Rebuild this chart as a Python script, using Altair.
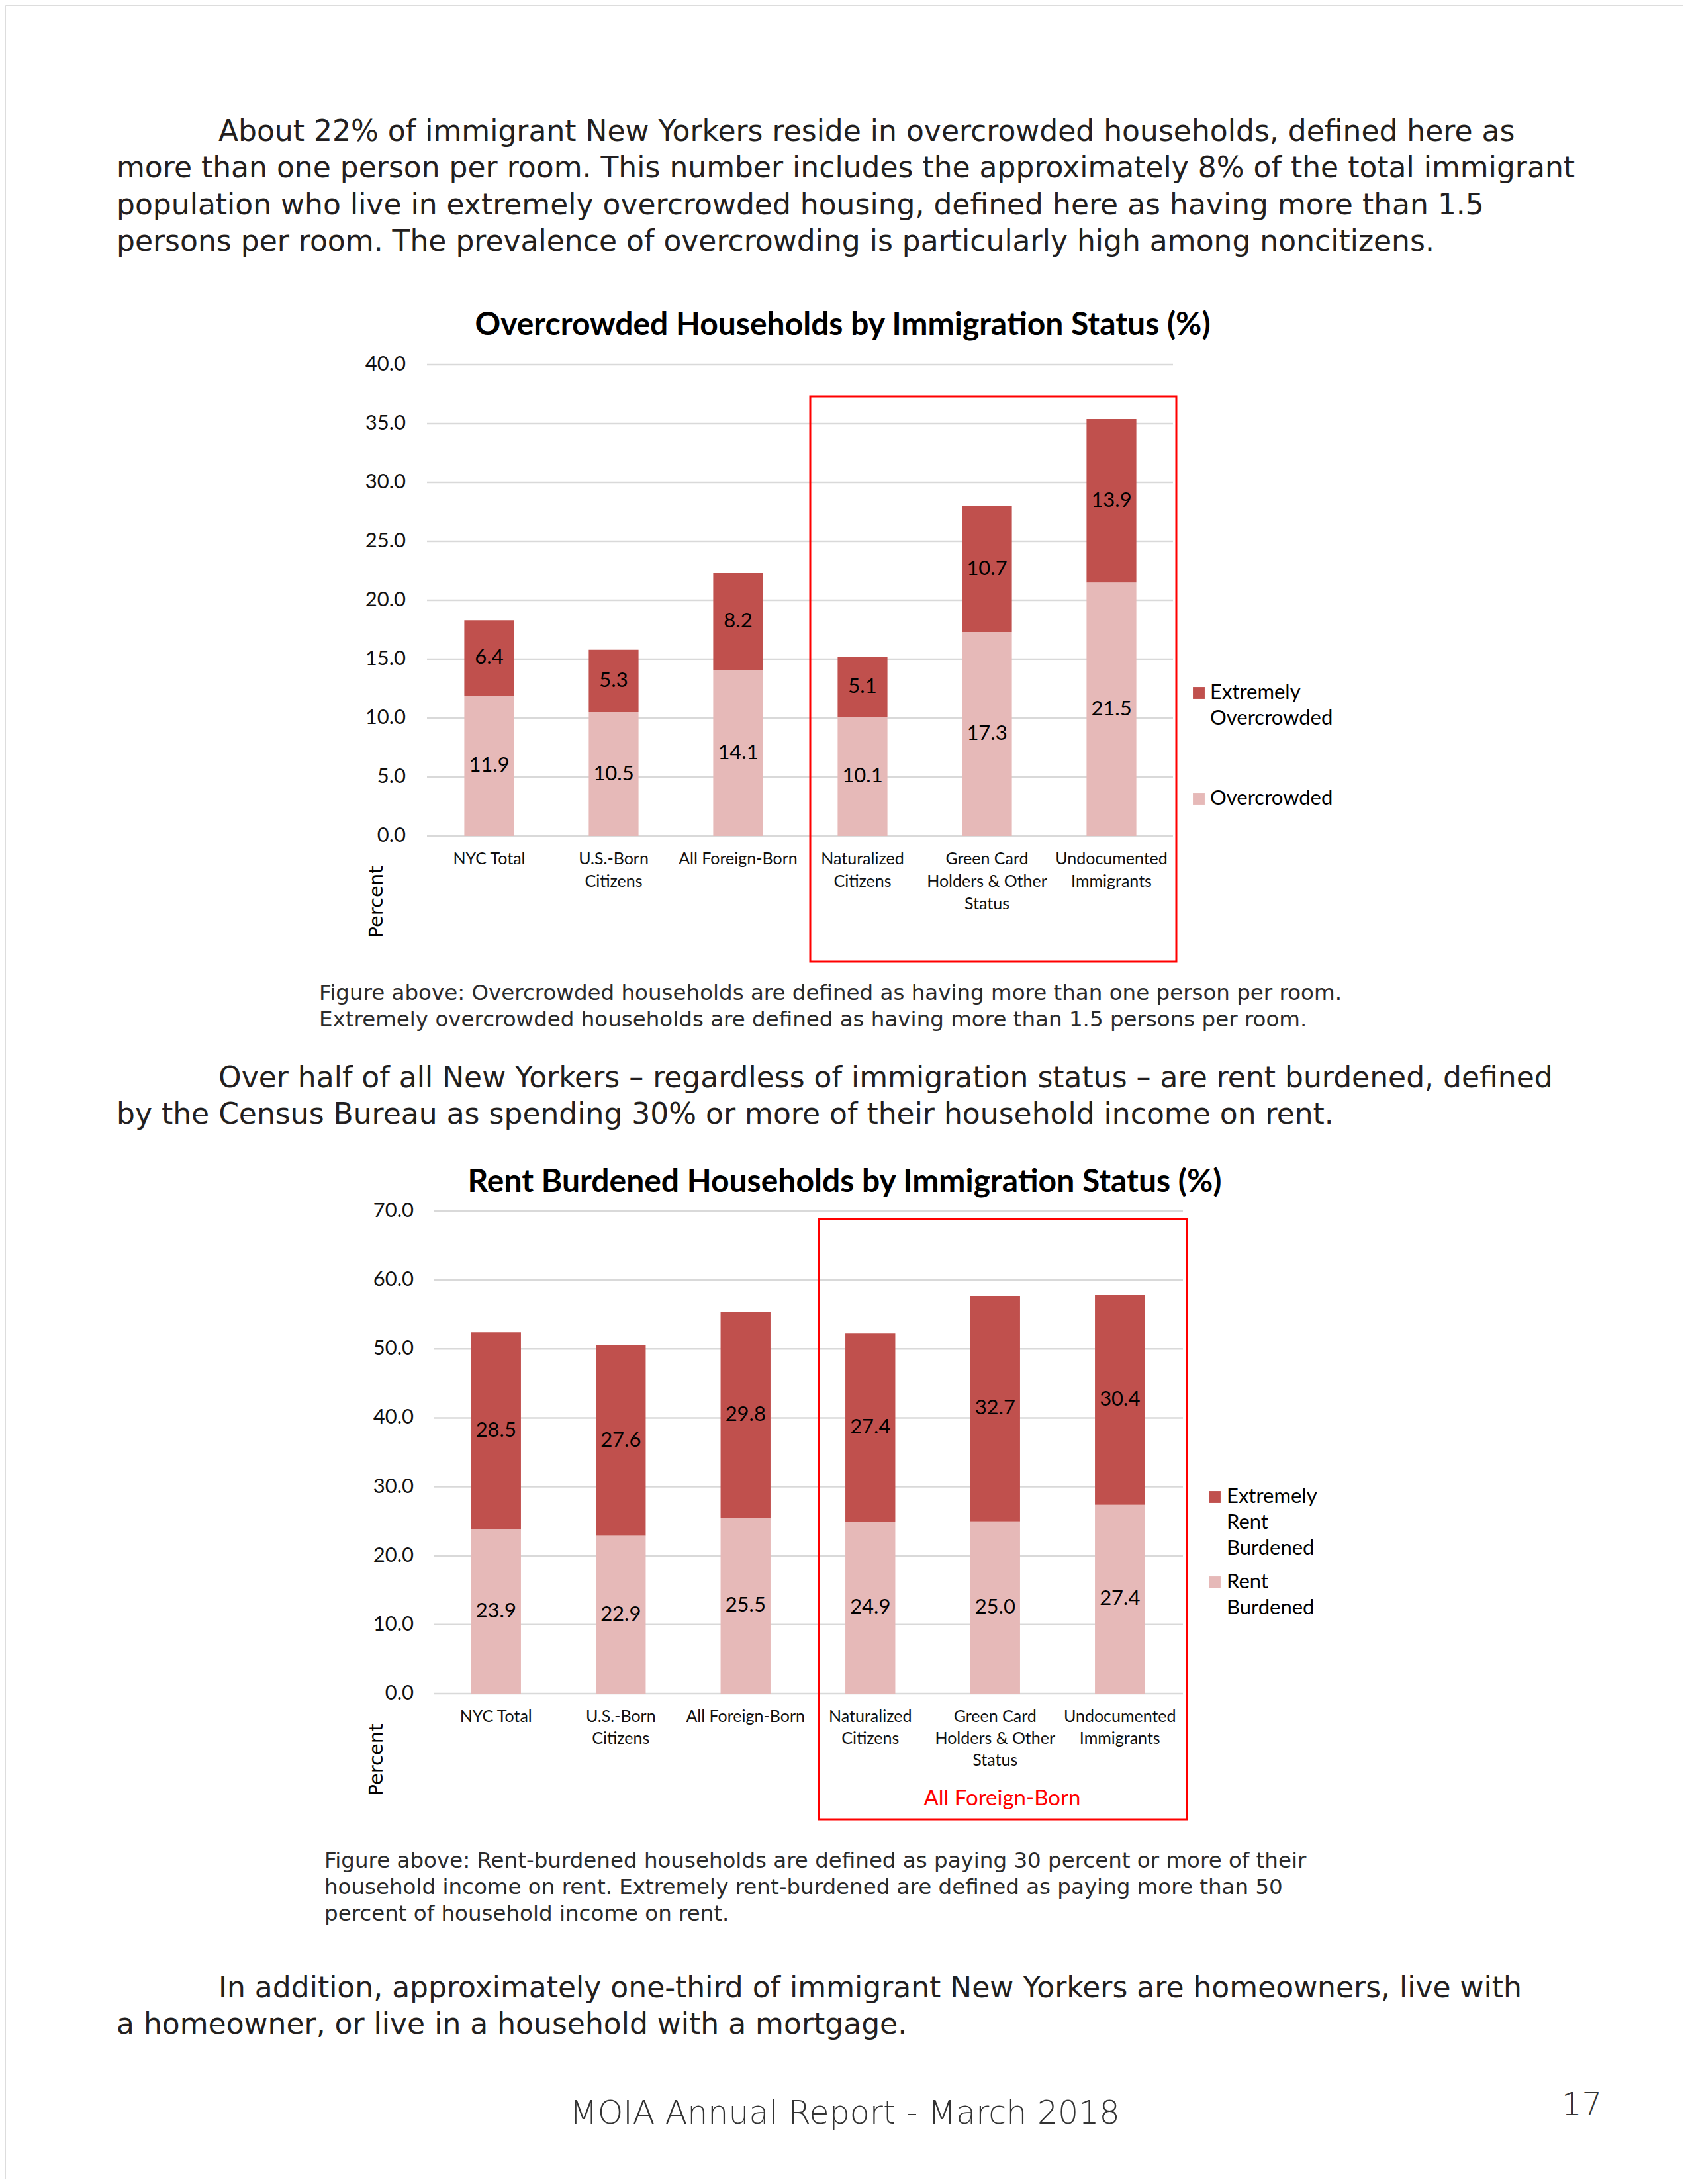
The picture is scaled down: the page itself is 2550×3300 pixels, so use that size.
import altair as alt
import pandas as pd

# ---------------- data ----------------
categories = ["NYC Total", "U.S.-Born\nCitizens", "All Foreign-Born", "Naturalized\nCitizens",
              "Green Card\nHolders & Other\nStatus", "Undocumented\nImmigrants"]

overcrowded = [11.9, 10.5, 14.1, 10.1, 17.3, 21.5]
extremely_overcrowded = [6.4, 5.3, 8.2, 5.1, 10.7, 13.9]

rent_burdened = [23.9, 22.9, 25.5, 24.9, 25.0, 27.4]
extremely_rent_burdened = [28.5, 27.6, 29.8, 27.4, 32.7, 30.4]

ticks1 = [0, 5, 10, 15, 20, 25, 30, 35, 40]
ticks2 = [0, 10, 20, 30, 40, 50, 60, 70]

series1 = ["Overcrowded", "Extremely Overcrowded"]
series2 = ["Rent Burdened", "Extremely Rent Burdened"]
legend1_labels = ["Extremely\nOvercrowded", "Overcrowded"]
legend2_labels = ["Extremely\nRent\nBurdened", "Rent\nBurdened"]

para1 = [
    "About 22% of immigrant New Yorkers reside in overcrowded households, defined here as",
    "more than one person per room. This number includes the approximately 8% of the total immigrant",
    "population who live in extremely overcrowded housing, defined here as having more than 1.5",
    "persons per room. The prevalence of overcrowding is particularly high among noncitizens.",
]
caption1 = [
    "Figure above: Overcrowded households are defined as having more than one person per room.",
    "Extremely overcrowded households are defined as having more than 1.5 persons per room.",
]
para2 = [
    "Over half of all New Yorkers \u2013 regardless of immigration status \u2013 are rent burdened, defined",
    "by the Census Bureau as spending 30% or more of their household income on rent.",
]
caption2 = [
    "Figure above: Rent-burdened households are defined as paying 30 percent or more of their",
    "household income on rent. Extremely rent-burdened are defined as paying more than 50",
    "percent of household income on rent.",
]
para3 = [
    "In addition, approximately one-third of immigrant New Yorkers are homeowners, live with",
    "a homeowner, or live in a household with a mortgage.",
]
title1 = "Overcrowded Households by Immigration Status (%)"
title2 = "Rent Burdened Households by Immigration Status (%)"
footer = "MOIA Annual Report - March 2018"
page_no = "17"

# ---------------- styling ----------------
OFF = 8
def P(v):
    return v - OFF

DARK = "#C0504D"
LIGHT = "#E6B9B8"
GRID = "#D9D9D9"
BODY_FONT = "DejaVu Sans"
CHART_FONT = "Lato"
TEXT_COL = "#231F20"


def stack_df(lower, upper, names):
    rows = []
    for c, lo_v, up_v in zip(categories, lower, upper):
        rows.append(dict(cat=c, series=names[0], value=lo_v, lo=0.0, hi=lo_v, mid=lo_v / 2))
        rows.append(dict(cat=c, series=names[1], value=up_v, lo=lo_v, hi=lo_v + up_v,
                         mid=lo_v + up_v / 2))
    return pd.DataFrame(rows)


def text_block(lines, x, y_first, size, lh, font=BODY_FONT, color=TEXT_COL, weight="normal",
               align="left"):
    df = pd.DataFrame({"t": ["\n".join(lines)]})
    return alt.Chart(df).mark_text(
        align=align, baseline="line-top", lineBreak="\n", lineHeight=lh, fontSize=size,
        font=font, color=color, fontWeight=weight, dy=-lh / 2
    ).encode(x=alt.value(P(x)), y=alt.value(P(y_first)), text="t:N")


def bar_chart(df, names, leg_labels, ticks, ymax, y0, ytop, xl, xr, grid_r, tick_x,
              label_y, label_lh, leg_sq_x, leg_txt_x, leg_y):
    xs = alt.Scale(domain=categories, range=[P(xl), P(xr)], paddingInner=0.6, paddingOuter=0.3)
    ys = alt.Scale(domain=[0, ymax], range=[P(y0), P(ytop)], nice=False, zero=True)
    cs = alt.Scale(domain=[names[1], names[0]], range=[DARK, LIGHT])
    X = alt.X("cat:N", scale=xs, axis=None)

    tdf = pd.DataFrame({"t": ticks})
    grid = alt.Chart(tdf).mark_rule(color=GRID, strokeWidth=2.5).encode(
        y=alt.Y("t:Q", scale=ys, axis=None), x=alt.value(P(xl)), x2=alt.value(P(grid_r)))
    tick_lab = alt.Chart(tdf).mark_text(align="right", baseline="middle", fontSize=31,
                                        font=CHART_FONT, color="#111111").encode(
        y=alt.Y("t:Q", scale=ys, axis=None), x=alt.value(P(tick_x)),
        text=alt.Text("t:Q", format=".1f"))
    bars = alt.Chart(df).mark_bar().encode(
        x=X, y=alt.Y("lo:Q", scale=ys, axis=None), y2="hi:Q",
        color=alt.Color("series:N", scale=cs, legend=None))
    vals = alt.Chart(df).mark_text(baseline="middle", fontSize=31, font=CHART_FONT,
                                   color="#000000").encode(
        x=X, y=alt.Y("mid:Q", scale=ys, axis=None), text=alt.Text("value:Q", format=".1f"))
    xlab = alt.Chart(pd.DataFrame({"cat": categories})).mark_text(
        baseline="line-top", lineBreak="\n", lineHeight=label_lh, dy=-label_lh / 2,
        fontSize=25, font=CHART_FONT, color="#111111").encode(
        x=X, y=alt.value(P(label_y)), text="cat:N")

    ldf = pd.DataFrame({"series": [names[1], names[0]], "label": leg_labels})
    lys = alt.Scale(type="point", domain=[names[1], names[0]], range=[P(leg_y[0]), P(leg_y[1])],
                    padding=0)
    leg_sq = alt.Chart(ldf).mark_square(size=320, opacity=1).encode(
        x=alt.value(P(leg_sq_x)), y=alt.Y("series:N", scale=lys, axis=None),
        color=alt.Color("series:N", scale=cs, legend=None))
    leg_tx = alt.Chart(ldf).mark_text(
        align="left", baseline="line-top", lineBreak="\n", lineHeight=39, dy=-19.5,
        fontSize=31, font=CHART_FONT, color="#000000").encode(
        x=alt.value(P(leg_txt_x)), y=alt.Y("series:N", scale=lys, axis=None), text="label:N")
    return [grid, tick_lab, bars, vals, xlab, leg_sq, leg_tx]


def red_box(x1, y1, x2, y2):
    return alt.Chart(pd.DataFrame({"a": [0]})).mark_rect(
        fillOpacity=0, stroke="#FF0000", strokeWidth=3).encode(
        x=alt.value(P(x1)), x2=alt.value(P(x2)), y=alt.value(P(y1)), y2=alt.value(P(y2)))


def single_text(t, x, y, size, font, color="#000000", weight="normal", align="center", angle=0):
    return alt.Chart(pd.DataFrame({"t": [t]})).mark_text(
        align=align, baseline="middle", fontSize=size, font=font, color=color,
        fontWeight=weight, angle=angle).encode(
        x=alt.value(P(x)), y=alt.value(P(y)), text="t:N")


df1 = stack_df(overcrowded, extremely_overcrowded, series1)
df2 = stack_df(rent_burdened, extremely_rent_burdened, series2)

layers = []
# paragraph 1
layers.append(text_block(para1[:1], 330, 200, 44, 55))
layers.append(text_block(para1[1:], 176, 255, 44, 55.5))

# chart 1
layers.append(single_text(title1, 1273, 492, 48, CHART_FONT, weight="bold"))
layers += bar_chart(df1, series1, legend1_labels, ticks1, 40, 1263, 551, 645, 1773, 1772, 613,
                    1299, 34, 1811, 1828, (1047, 1207))
layers.append(single_text("Percent", 569, 1363, 29, BODY_FONT, angle=270))
layers.append(red_box(1224, 599, 1777, 1453))
layers.append(text_block(caption1, 482, 1502, 32.5, 40, color="#2b2b2b"))

# paragraph 2
layers.append(text_block(para2[:1], 330, 1630, 44, 55))
layers.append(text_block(para2[1:], 176, 1685, 44, 55))

# chart 2
layers.append(single_text(title2, 1276, 1787, 48, CHART_FONT, weight="bold"))
layers += bar_chart(df2, series2, legend2_labels, ticks2, 70, 2559, 1830, 655, 1786, 1787, 625,
                    2594, 33, 1835, 1853, (2262, 2391))
layers.append(single_text("Percent", 569, 2659, 29, BODY_FONT, angle=270))
layers.append(red_box(1237, 1842, 1793, 2749))
layers.append(single_text("All Foreign-Born", 1514, 2718, 33, CHART_FONT, color="#FF0000"))
layers.append(text_block(caption2, 490, 2813, 32.5, 40, color="#2b2b2b"))

# paragraph 3
layers.append(text_block(para3[:1], 330, 3005, 44, 55))
layers.append(text_block(para3[1:], 176, 3060, 44, 55))

# footer
layers.append(single_text(footer, 1276, 3194, 49, BODY_FONT, color="#333333", weight=300))
layers.append(single_text(page_no, 2359, 3182, 48, BODY_FONT, color="#333333", weight=300,
                          align="left"))

chart = alt.layer(*layers).resolve_scale(
    x="independent", y="independent", color="independent"
).properties(
    width=2534, height=3284, padding=0, autosize=alt.AutoSizeParams(type="none")
).configure_view(stroke=None).configure(background="white")

chart.save("out.html", embed_options={"renderer": "svg", "actions": False})
